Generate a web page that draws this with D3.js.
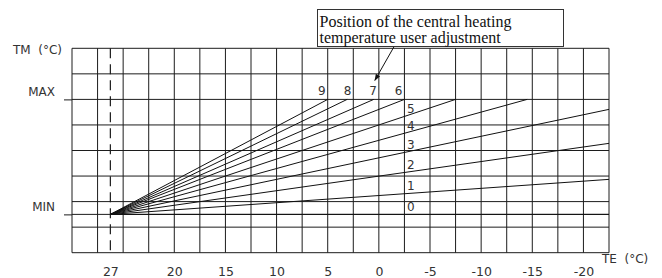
<!DOCTYPE html>
<html>
<head>
<meta charset="utf-8">
<script src="https://cdn.jsdelivr.net/npm/d3@7/dist/d3.min.js"></script>
<style>
  html, body { margin: 0; padding: 0; background: #fff; }
  svg { display: block; }
  .lbl { font-family: "DejaVu Sans", sans-serif; fill: #333; white-space: pre; }
</style>
</head>
<body>
<svg id="chart" width="662" height="278"></svg>
<script>
// ---- data ----
const curveNames = ["0", "1", "2", "3", "4", "5", "6", "7", "8", "9"];
const curveStartTE = 26.25;          // common origin (dashed "27" line)
const curveStartTM = 1.5;            // common origin at MIN
const curveEndTE = [-22.5, -22.5, -22.5, -22.5, -14.5, -7.5, -2.5, 0.5, 3.1, 5.0];
const curveEndTM = [1.5, 2.87, 4.28, 5.61, 6, 6, 6, 6, 6, 6];

const teTickValues = [26.25, 20, 15, 10, 5, 0, -5, -10, -15, -20];
const teTickLabels = ["27", "20", "15", "10", "5", "0", "-5", "-10", "-15", "-20"];
const tmTickValues = [6, 1.5];
const tmTickLabels = ["MAX", "MIN"];
const annotationLines = ["Position of the central heating", "temperature user adjustment"];
const annotatedCurve = "7";

// ---- layout ----
const svg = d3.select("#chart");
const x = d3.scaleLinear().domain([30, -22.5]).range([72, 609]);
const y = d3.scaleLinear().domain([0, 8]).range([252.7, 48.3]);
const ink = "#1c1c1c";

// grid
const gridTE = d3.range(-22.5, 30.001, 2.5);
const gridTM = d3.range(0, 8.001, 1);
const g = svg.append("g");
g.selectAll("line.v").data(gridTE).join("line")
  .attr("x1", d => x(d)).attr("x2", d => x(d))
  .attr("y1", y(0)).attr("y2", y(8))
  .attr("stroke", ink).attr("stroke-width", 1);
g.selectAll("line.h").data(gridTM).join("line")
  .attr("x1", x(30)).attr("x2", x(-22.5))
  .attr("y1", d => y(d)).attr("y2", d => y(d))
  .attr("stroke", ink).attr("stroke-width", 1);
// MIN horizontal line across grid
g.append("line")
  .attr("x1", x(30)).attr("x2", x(-22.5))
  .attr("y1", y(1.5)).attr("y2", y(1.5))
  .attr("stroke", ink).attr("stroke-width", 1);

// dashed origin line
svg.append("line")
  .attr("x1", x(curveStartTE)).attr("x2", x(curveStartTE))
  .attr("y1", y(8)).attr("y2", y(0))
  .attr("stroke", ink).attr("stroke-width", 1.2)
  .attr("stroke-dasharray", "10,6");

// curves
const curves = curveNames.map((n, i) => ({
  name: n,
  pts: [[curveStartTE, curveStartTM], [curveEndTE[i], curveEndTM[i]]]
}));
const lineGen = d3.line().x(d => x(d[0])).y(d => y(d[1]));
svg.selectAll("path.curve").data(curves).join("path")
  .attr("class", "curve")
  .attr("d", d => lineGen(d.pts))
  .attr("fill", "none").attr("stroke", "#111").attr("stroke-width", 1);

// curve labels
function tmAt(c, te) {
  const [a, b] = c.pts;
  return a[1] + (b[1] - a[1]) * (te - a[0]) / (b[0] - a[0]);
}
const labelCol = -2.5;
svg.selectAll("text.cl").data(curves).join("text")
  .attr("class", "lbl cl")
  .attr("font-size", 12)
  .each(function(d) {
    const end = d.pts[1];
    const t = d3.select(this);
    if (end[1] >= 6 && end[0] > labelCol - 1) {
      t.attr("x", x(Math.round(end[0] / 2.5) * 2.5) - 2)
       .attr("y", y(6) - 4)
       .attr("text-anchor", "end");
    } else {
      t.attr("x", x(labelCol) + 2.5)
       .attr("y", y(tmAt(d, labelCol)) - 3.5)
       .attr("text-anchor", "start");
    }
  })
  .text(d => d.name);

// axes
const xAxis = d3.axisBottom(x).tickValues(teTickValues)
  .tickFormat((d, i) => teTickLabels[i]).tickSize(0);
const xa = svg.append("g").attr("transform", `translate(0,${y(0)})`).call(xAxis);
xa.select(".domain").remove();
xa.attr("font-family", null).attr("font-size", null);
xa.selectAll("text").attr("class", "lbl").attr("font-size", 12.5)
  .attr("fill", null)
  .attr("y", 23.3).attr("dy", 0);

const yAxis = d3.axisLeft(y).tickValues(tmTickValues)
  .tickFormat((d, i) => tmTickLabels[i]).tickSize(8).tickPadding(9);
const ya = svg.append("g").attr("transform", `translate(${x(30)},0)`).call(yAxis);
ya.select(".domain").remove();
ya.attr("font-family", null).attr("font-size", null);
ya.selectAll("line").attr("stroke", ink);
ya.selectAll("text").attr("class", "lbl").attr("font-size", 12)
  .attr("fill", null)
  .attr("dy", -4);

// axis titles
svg.append("text").attr("class", "lbl").attr("font-size", 12)
  .attr("x", 13).attr("y", 54).text("TM  (°C)");
svg.append("text").attr("class", "lbl").attr("font-size", 12)
  .attr("x", 602).attr("y", 263).text("TE  (°C)");

// annotation box
const box = {x0: 317.5, y0: 9.5, x1: 563.5, y1: 46.5};
svg.append("rect")
  .attr("x", box.x0).attr("y", box.y0)
  .attr("width", box.x1 - box.x0).attr("height", box.y1 - box.y0)
  .attr("fill", "#fff").attr("stroke", "#333").attr("stroke-width", 1);
svg.append("text")
  .attr("font-family", "Liberation Serif, serif").attr("font-size", 16).attr("fill", "#111")
  .selectAll("tspan").data(annotationLines).join("tspan")
  .attr("x", 319.5).attr("y", (d, i) => 26.5 + i * 16.2)
  .text(d => d);

// arrow to the annotated curve label
const ai = curveNames.indexOf(annotatedCurve);
const tipX = x(Math.round(curveEndTE[ai] / 2.5) * 2.5) - 4;
const tipY = y(6) - 19;
svg.append("defs").append("marker")
  .attr("id", "ah").attr("viewBox", "0 0 10 10").attr("refX", 9).attr("refY", 5)
  .attr("markerWidth", 7).attr("markerHeight", 7).attr("orient", "auto")
  .attr("markerUnits", "userSpaceOnUse")
  .append("path").attr("d", "M0,1.5 L10,5 L0,8.5 Z").attr("fill", "#111");
svg.append("line")
  .attr("x1", tipX + 19).attr("y1", box.y1 + 0.5)
  .attr("x2", tipX).attr("y2", tipY)
  .attr("stroke", "#111").attr("stroke-width", 1)
  .attr("marker-end", "url(#ah)");
</script>
</body>
</html>
